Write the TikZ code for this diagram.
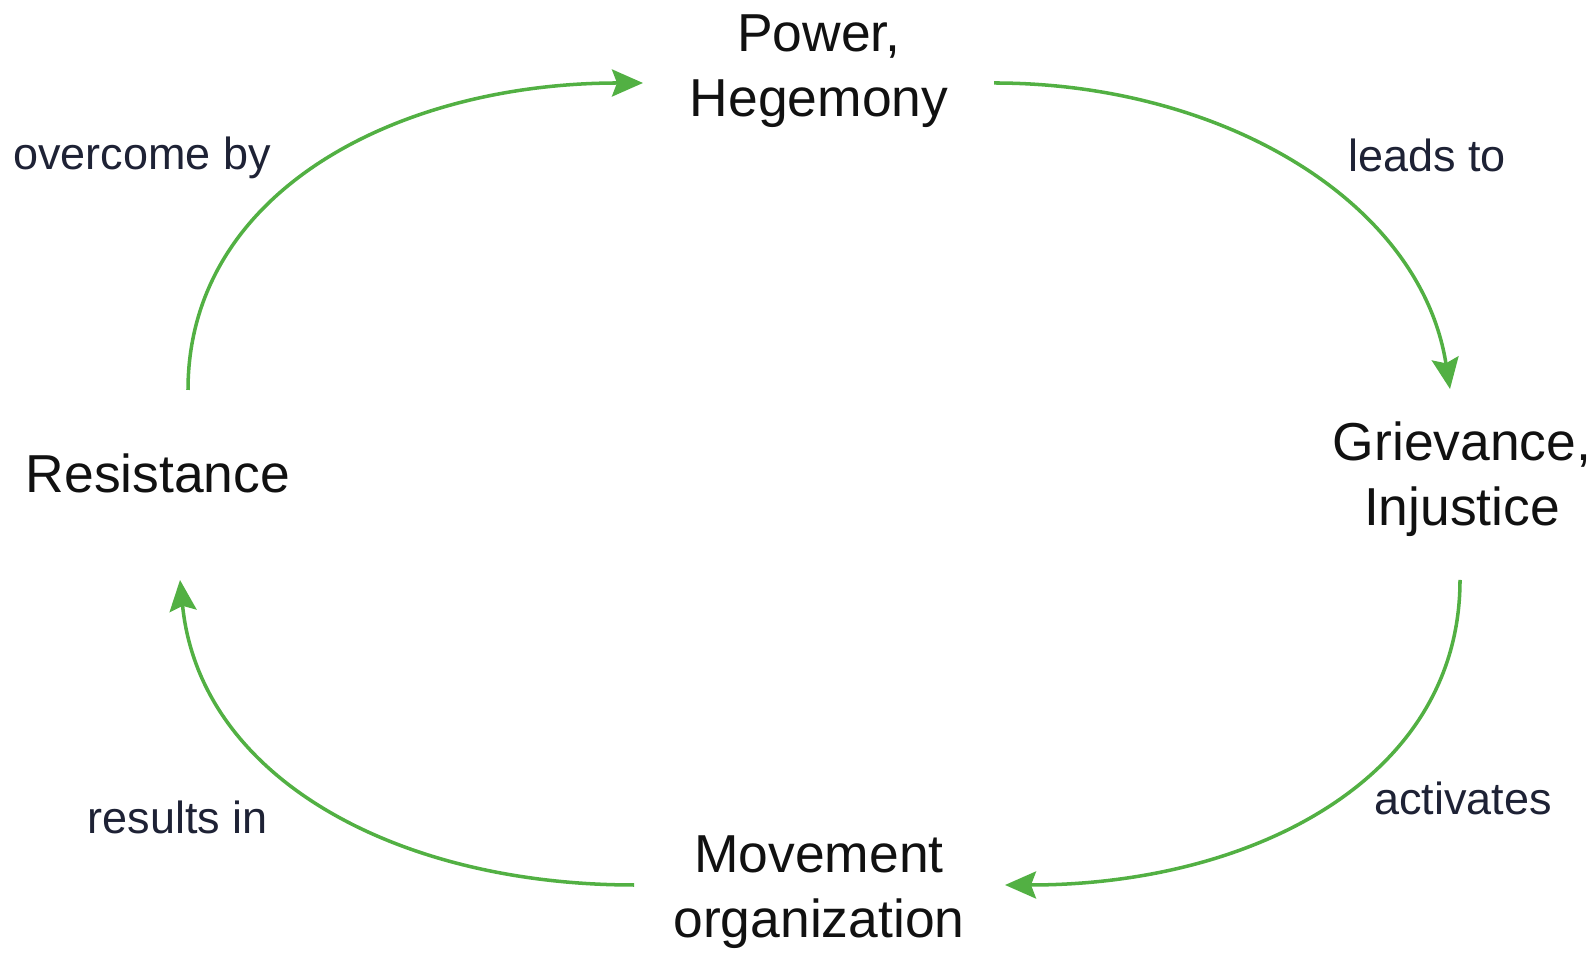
\documentclass[tikz,border=0pt]{standalone}
\usepackage{fontspec}
\setmainfont{Liberation Sans}
\usepackage{xcolor}
\usetikzlibrary{arrows.meta,positioning}
\definecolor{green2}{HTML}{52B043}
\definecolor{navy2}{HTML}{1E2235}
\definecolor{ink2}{HTML}{111111}

\begin{document}
\begin{tikzpicture}[
        x=0.1mm, y=-0.1mm,
        stage/.style={font=\fontsize{15.2}{18.5}\selectfont, text=ink2, align=center, inner sep=0pt},
        lbl/.style={font=\fontsize{12.8}{15}\selectfont, text=navy2, inner sep=0pt},
        arr/.style={-{Stealth[length=3.1mm,width=2.7mm,inset=0.5mm]}, line width=1pt, draw=green2}
    ]
      \useasboundingbox (0,0) rectangle (1595,953);
      % stages of the cycle
      \node[stage] (pow) at (819,71) {Power,\\Hegemony};
      \node[stage] (grv) at (1462,479) {Grievance,\\Injustice};
      \node[stage] (mov) at (819,892) {Movement\\organization};
      \node[stage] (res) at (158,473) {Resistance};
      % arc end points
      \coordinate (res-out) at (188,390);
      \coordinate (pow-in) at (643,83);
      \coordinate (pow-out) at (994,83);
      \coordinate (grv-in) at (1450,389);
      \coordinate (grv-out) at (1460,580);
      \coordinate (mov-in) at (1005,885);
      \coordinate (mov-out) at (634,885);
      \coordinate (res-in) at (180,580);
      % arcs
      \draw[arr] (res-out) .. controls (188,190) and (400,83) .. (pow-in);
      \draw[arr] (pow-out) .. controls (1220,83) and (1420,200) .. (grv-in);
      \draw[arr] (grv-out) .. controls (1460,780) and (1250,885) .. (mov-in);
      \draw[arr] (mov-out) .. controls (400,885) and (200,780) .. (res-in);
      % labels
      \node[lbl] (l-over) at (142,158) {overcome by};
      \node[lbl] (l-lead) at (1427,155) {leads to};
      \node[lbl] (l-act) at (1463,798) {activates};
      \node[lbl] (l-res) at (178,817) {results in};
    \end{tikzpicture}
\end{document}
